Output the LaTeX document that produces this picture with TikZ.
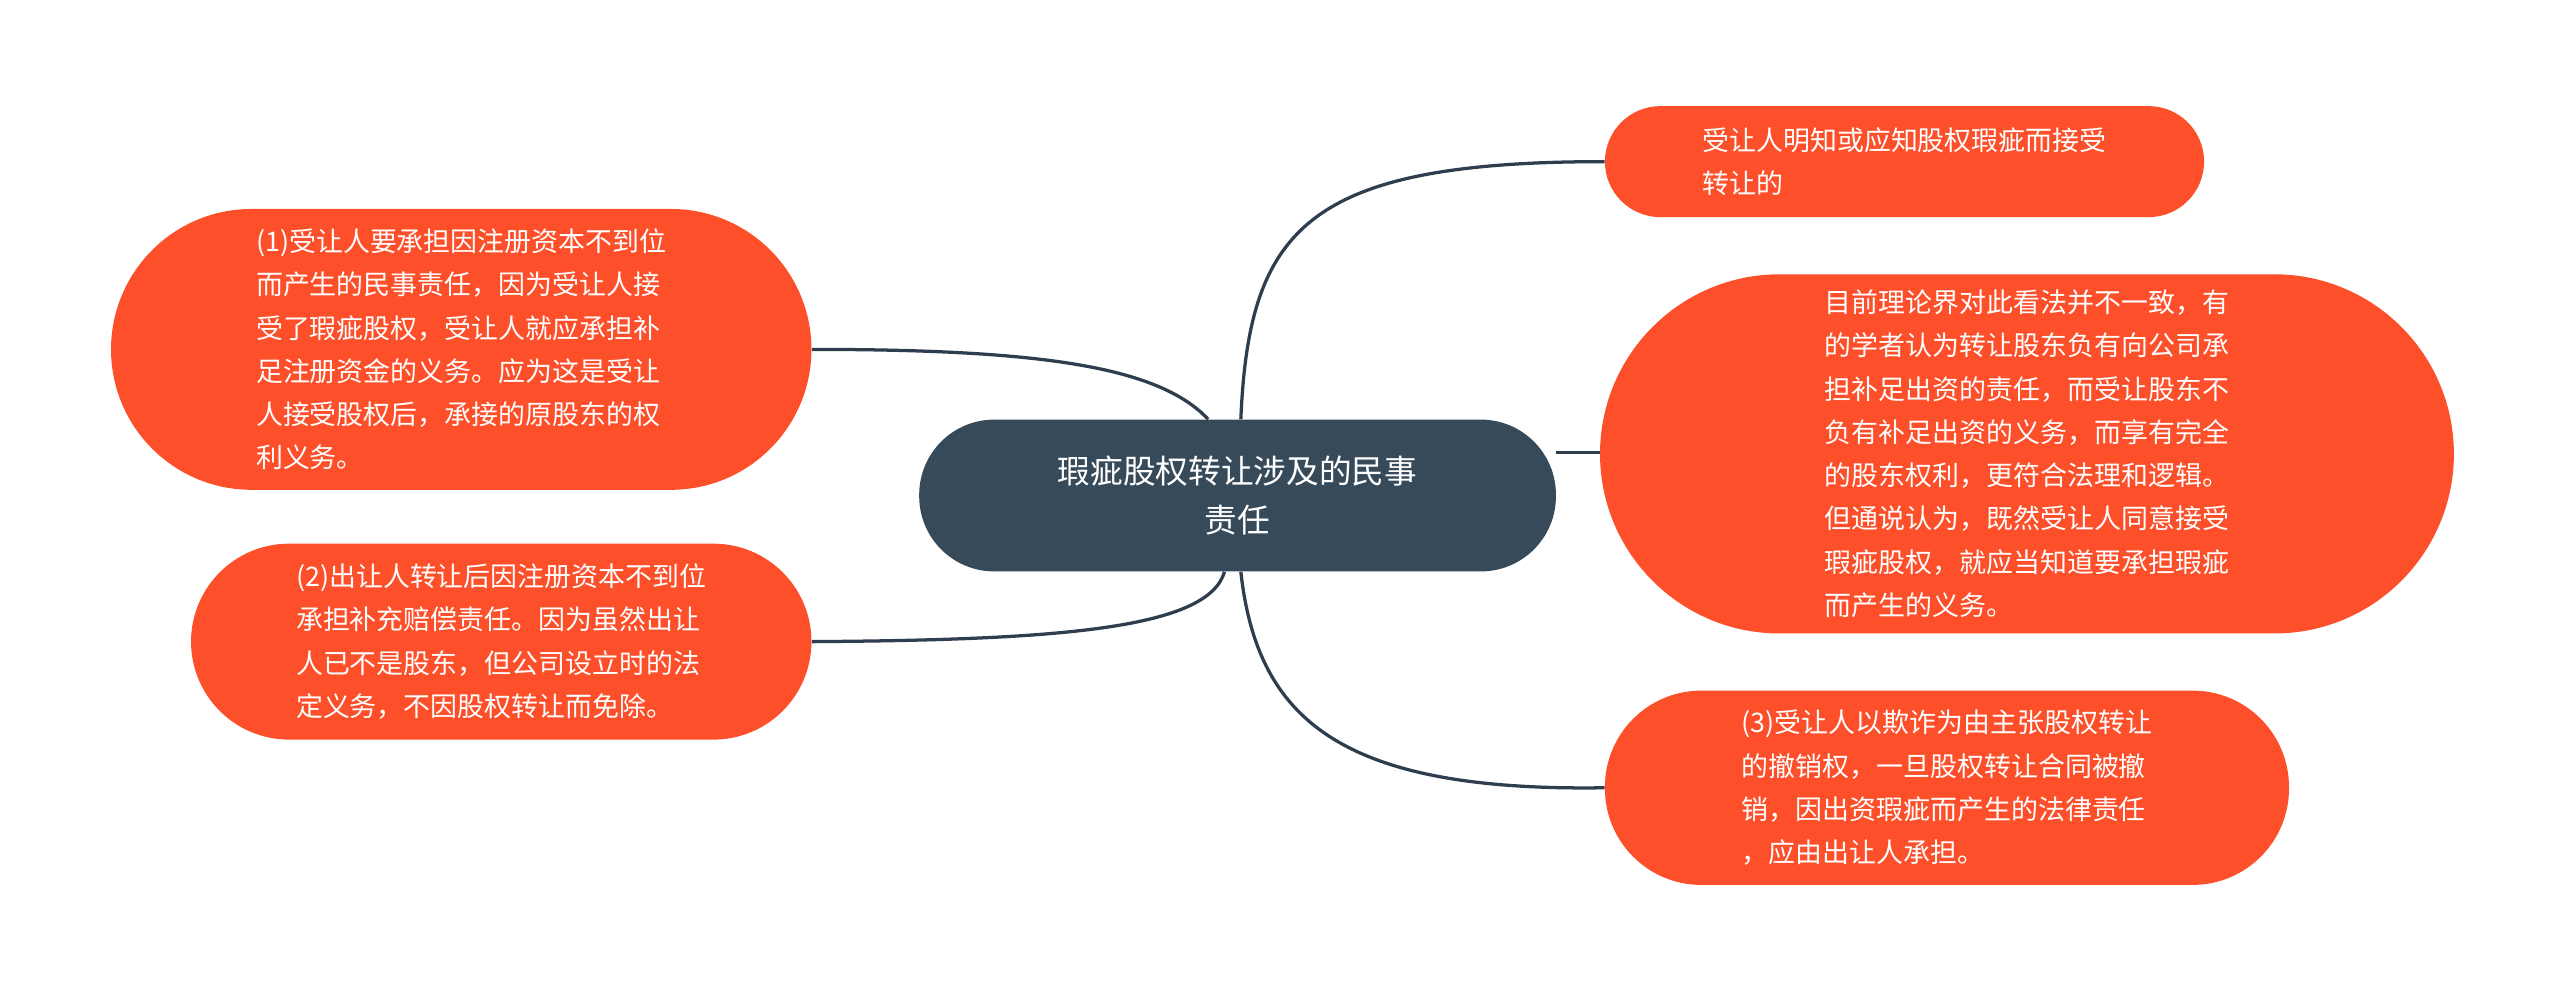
\documentclass[tikz,border=0pt]{standalone}
\usepackage{fontspec}
\setmainfont{Noto Sans CJK SC}
\begin{document}
\begin{tikzpicture}[x=1pt,y=-1pt,
  leaf/.style={fill=leafc,text=white,font=\fontsize{16.5}{26.5}\selectfont,align=left,inner sep=0pt},
  conn/.style={draw=linec,line width=2pt}]
\definecolor{leafc}{HTML}{FC4F2A}
\definecolor{centc}{HTML}{374A5A}
\definecolor{linec}{HTML}{2F3E4E}
\useasboundingbox (0,0) rectangle (1568,607);
% connectors drawn first
\node[leaf,minimum width=390pt,minimum height=93pt,fill=centc,rounded corners=46pt,align=center,font=\fontsize{20}{30}\selectfont] (c) at (758,303.5) {瑕疵股权转让涉及的民事\\责任};
\node[leaf,minimum width=367pt,minimum height=68pt,rounded corners=34pt] (rt) at (1166.5,99) {受让人明知或应知股权瑕疵而接受\\转让的\hspace{9em}};
\node[leaf,minimum width=523pt,minimum height=220pt,rounded corners=110pt] (rm) at (1241.5,278) {目前理论界对此看法并不一致，有\\的学者认为转让股东负有向公司承\\担补足出资的责任，而受让股东不\\负有补足出资的义务，而享有完全\\的股东权利，更符合法理和逻辑。\\但通说认为，既然受让人同意接受\\瑕疵股权，就应当知道要承担瑕疵\\而产生的义务。};
\node[leaf,minimum width=419pt,minimum height=119pt,rounded corners=59pt] (rb) at (1192.5,482.5) {(3)受让人以欺诈为由主张股权转让\\的撤销权，一旦股权转让合同被撤\\销，因出资瑕疵而产生的法律责任\\，应由出让人承担。};
\node[leaf,minimum width=429pt,minimum height=172pt,rounded corners=86pt] (lt) at (282.5,214) {(1)受让人要承担因注册资本不到位\\而产生的民事责任，因为受让人接\\受了瑕疵股权，受让人就应承担补\\足注册资金的义务。应为这是受让\\人接受股权后，承接的原股东的权\\利义务。};
\node[leaf,minimum width=380pt,minimum height=120pt,rounded corners=60pt] (lb) at (307,393) {(2)出让人转让后因注册资本不到位\\承担补充赔偿责任。因为虽然出让\\人已不是股东，但公司设立时的法\\定义务，不因股权转让而免除。};
\begin{scope}[on background layer/.try]
\end{scope}
\draw[conn] (lt.east) .. controls (640,214) and (710,225) .. ([xshift=-18pt]c.north);
\draw[conn] (lb.east) .. controls (650,392) and (740,385) .. ([xshift=-8pt]c.south);
\draw[conn] ([xshift=2pt]c.north) .. controls (765,140) and (800,99) .. (rt.west);
\draw[conn] (c.east |- 0,277) coordinate (ce) -- (rm.west |- ce);
\draw[conn] ([xshift=2pt]c.south) .. controls (770,440) and (820,485) .. (rb.west);
\end{tikzpicture}
\end{document}
